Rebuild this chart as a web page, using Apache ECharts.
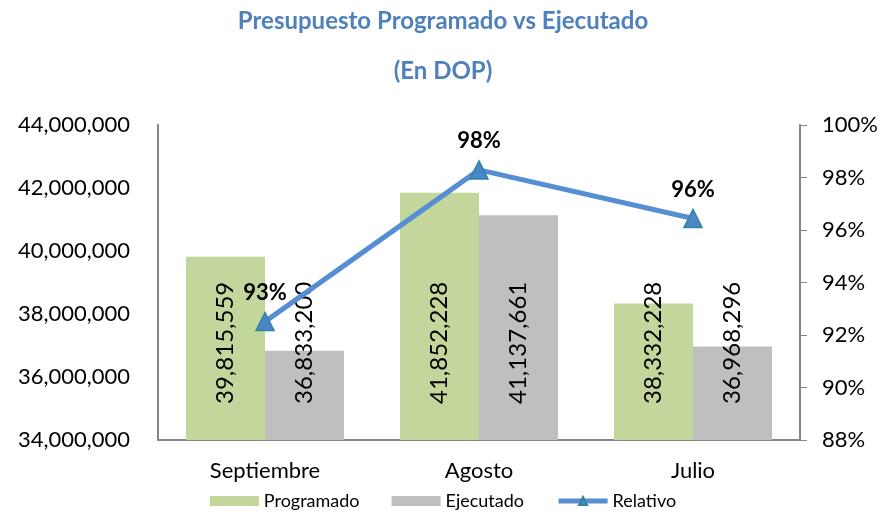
<!DOCTYPE html>
<html>
<head>
<meta charset="utf-8">
<script src="https://cdn.jsdelivr.net/npm/echarts@6/dist/echarts.min.js"></script>
<style>
  html, body { margin: 0; padding: 0; background: #fff; }
  #chart { width: 886px; height: 516px; }
</style>
</head>
<body>
<div id="chart"></div>
<script>
const categories = ['Septiembre', 'Agosto', 'Julio']
const programado = [39815559, 41852228, 38332228]
const ejecutado = [36833200, 41137661, 36968296]
const relativo = [92.51, 98.29, 96.44]

const font = 'Lato'
const chart = echarts.init(document.getElementById('chart'))

const barLabel = {
  show: true,
  position: 'insideBottom',
  distance: 36,
  rotate: 90,
  align: 'left',
  verticalAlign: 'middle',
  color: '#000',
  fontFamily: font,
  fontSize: 24,
  formatter: p => p.value.toLocaleString('en-US'),
}

const options = {
  animation: false,
  title: [
    {
      text: 'Presupuesto Programado vs Ejecutado',
      left: 'center',
      top: 4,
      textStyle: {color: '#4f81bd', fontFamily: font, fontSize: 24, fontWeight: 'bold'},
    },
    {
      text: '(En DOP)',
      left: 'center',
      top: 54,
      textStyle: {color: '#4f81bd', fontFamily: font, fontSize: 24, fontWeight: 'bold'},
    },
  ],
  grid: {left: 158, right: 86, top: 125, bottom: 76},
  legend: {
    bottom: 1,
    left: 'center',
    itemWidth: 49,
    itemHeight: 10,
    itemGap: 32,
    textStyle: {fontFamily: font, fontSize: 18, color: '#000'},
    data: [
      {name: 'Programado', icon: 'rect'},
      {name: 'Ejecutado', icon: 'rect'},
      {name: 'Relativo', lineStyle: {width: 5}},
    ],
  },
  xAxis: {
    type: 'category',
    data: categories,
    axisLine: {lineStyle: {color: '#868686', width: 2}},
    axisTick: {show: false},
    axisLabel: {color: '#000', fontFamily: font, fontSize: 22, margin: 20},
  },
  yAxis: [
    {
      type: 'value',
      min: 34000000,
      max: 44000000,
      interval: 2000000,
      axisLine: {show: true, lineStyle: {color: '#868686', width: 2}},
      axisTick: {show: false},
      splitLine: {show: false},
      axisLabel: {
        color: '#000',
        fontFamily: font,
        fontSize: 22,
        margin: 28,
        formatter: v => v.toLocaleString('en-US'),
      },
    },
    {
      type: 'value',
      min: 88,
      max: 100,
      interval: 2,
      axisLine: {show: true, lineStyle: {color: '#868686', width: 2}},
      axisTick: {show: true, inside: false, length: 7, lineStyle: {color: '#868686'}},
      splitLine: {show: false},
      axisLabel: {color: '#000', fontFamily: font, fontSize: 22, margin: 22, formatter: '{value}%'},
    },
  ],
  series: [
    {
      name: 'Programado',
      type: 'bar',
      data: programado,
      barWidth: 79,
      barGap: '0%',
      itemStyle: {color: '#c3d69b'},
      label: barLabel,
    },
    {
      name: 'Ejecutado',
      type: 'bar',
      data: ejecutado,
      barWidth: 79,
      barGap: '0%',
      itemStyle: {color: '#bfbfbf'},
      label: barLabel,
    },
    {
      name: 'Relativo',
      type: 'line',
      yAxisIndex: 1,
      data: relativo,
      symbol: 'triangle',
      symbolSize: 18,
      lineStyle: {color: '#558ed5', width: 5},
      itemStyle: {color: '#4a86c8', borderColor: '#31859c', borderWidth: 1.5},
      label: {
        show: true,
        position: 'top',
        distance: 8,
        color: '#000',
        fontFamily: font,
        fontSize: 22,
        fontWeight: 'bold',
        formatter: p => Math.round(p.value) + '%',
      },
      z: 5,
    },
  ],
}
options && chart.setOption(options)
</script>
</body>
</html>
